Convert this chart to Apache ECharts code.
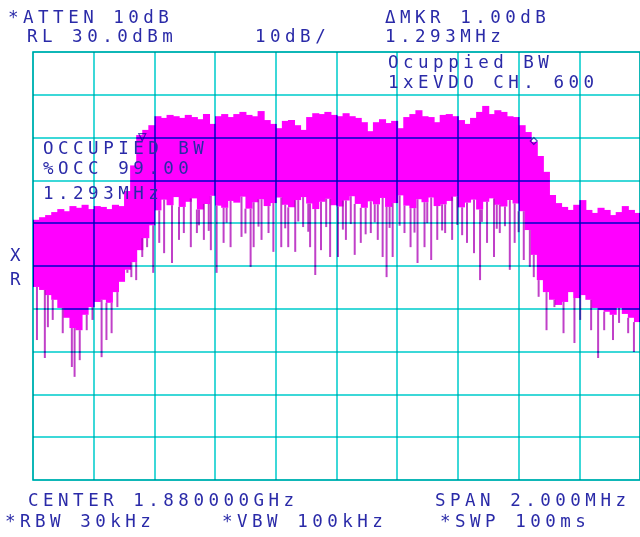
<!DOCTYPE html>
<html>
<head>
<meta charset="UTF-8">
<title>Occupied BW</title>
<script type="text/javascript" src="https://cdn.jsdelivr.net/npm/echarts@6/dist/echarts.min.js"></script>
<style>
html,body{margin:0;padding:0;background:#fff;}
/* trace is multiplied over the grid, so cyan lines turn dark blue under it */
#main svg path, #main svg rect, #main svg line { mix-blend-mode: multiply; }
/* analyser font has a wide character pitch */
#main svg text { letter-spacing: 4.5px; }
</style>
</head>
<body>
<div id="main" style="width:640px;height:537px;"></div>

<script type="text/javascript">
// x axis: offset from center 1.880000 GHz, in MHz (span 2 MHz)
// y axis: dBm, RL 30 dBm, 10 dB/div
var colStep = 0.02;   // width of one trace column, MHz

// upper edge of the trace, one value per column (dBm)
var peak = [
  -9.2, -8.6, -8.1, -7.4, -6.7, -7.2, -6.0, -6.4, -5.7, -6.7,
  -6.0, -6.2, -6.7, -5.7, -6.0, -2.5, 3.5, 10.6, 11.8, 12.9,
  15.0, 14.6, 15.3, 15.0, 14.6, 15.3, 14.8, 14.3, 15.5, 13.2,
  15.0, 15.5, 14.8, 15.5, 16.0, 15.3, 15.0, 16.2, 14.1, 13.2,
  12.2, 13.9, 14.1, 12.9, 11.8, 14.8, 15.7, 15.5, 16.0, 15.3,
  15.0, 15.7, 15.0, 14.6, 13.6, 11.5, 13.6, 14.3, 13.4, 13.9,
  12.2, 14.8, 15.5, 16.4, 15.0, 14.8, 13.6, 15.3, 15.5, 15.0,
  14.1, 13.2, 14.6, 16.0, 17.4, 15.5, 16.4, 16.0, 15.0, 14.8,
  12.9, 11.3, 9.0, 5.7, 2.0, -3.4, -5.3, -6.2, -6.9, -5.7,
  -4.6, -6.9, -7.6, -6.4, -6.9, -8.1, -7.4, -6.0, -6.9, -7.6
];

// lower edge of the solid part of the trace (dBm)
var floor = [
  -24.9, -25.6, -26.8, -27.9, -29.8, -32.1, -34.5, -35.0, -31.4, -29.6,
  -28.4, -27.9, -28.6, -26.1, -23.7, -20.9, -19.1, -16.3, -13.5, -10.5,
  -7.0, -4.5, -5.8, -3.9, -6.2, -5.0, -4.2, -6.8, -5.5, -3.6,
  -5.9, -6.4, -4.8, -5.2, -3.8, -6.6, -5.1, -4.4, -6.0, -5.3,
  -4.0, -5.7, -6.3, -4.6, -3.9, -5.4, -6.7, -5.0, -4.3, -5.8,
  -6.1, -4.7, -3.7, -5.5, -6.4, -4.9, -5.6, -4.1, -6.2, -5.3,
  -3.5, -5.9, -6.5, -4.4, -5.1, -4.0, -6.0, -5.6, -4.8, -3.8,
  -6.3, -5.2, -4.5, -6.8, -5.0, -4.2, -5.7, -6.1, -4.6, -5.4,
  -7.2, -11.6, -17.4, -23.3, -26.1, -27.9, -29.1, -28.4, -26.1, -27.5,
  -26.8, -27.9, -29.8, -30.3, -30.7, -31.4, -29.8, -31.2, -32.1, -33.1
];

// downward noise spikes: frequency (MHz) and lowest value (dBm)
var spikeFreq = [
  -0.987, -0.961, -0.951, -0.935, -0.902, -0.872, -0.863, -0.846, -0.823, -0.804,
  -0.774, -0.758, -0.741, -0.722, -0.689, -0.676, -0.660, -0.640, -0.624, -0.604,
  -0.584, -0.568, -0.542, -0.519, -0.503, -0.480, -0.460, -0.437, -0.414, -0.395,
  -0.372, -0.349, -0.313, -0.283, -0.273, -0.247, -0.224, -0.208, -0.182, -0.159,
  -0.136, -0.110, -0.087, -0.070, -0.051, -0.021, 0.005, 0.031, 0.060, 0.080,
  0.113, 0.136, 0.152, 0.165, 0.185, 0.224, 0.244, 0.267, 0.290, 0.312,
  0.332, 0.358, 0.381, 0.430, 0.453, 0.473, 0.496, 0.519, 0.538, 0.571,
  0.587, 0.617, 0.637, 0.650, 0.666, 0.692, 0.718, 0.748, 0.784, 0.803,
  0.839, 0.862, 0.882, 0.911, 0.931, 0.961, 0.980,
  -0.453, -0.421, -0.362, -0.300, -0.257, -0.169, -0.126, -0.093, -0.034, 0.021,
  0.047, 0.096, 0.126, 0.175, 0.208, 0.257, 0.299, 0.348, 0.398, 0.414,
  0.479, 0.528, 0.555, 0.600
];
var spikeLow = [
  -37.3, -41.5, -34.3, -32.6, -35.7, -43.6, -45.9, -42.0, -35.0, -32.6,
  -41.3, -37.3, -35.7, -29.6, -21.6, -22.6, -23.3, -17.9, -15.6, -21.6,
  -14.6, -17.0, -19.3, -13.9, -12.3, -15.6, -12.3, -13.9, -16.3, -21.6,
  -14.6, -15.6, -13.2, -20.2, -15.6, -13.9, -12.3, -16.7, -15.6, -15.6,
  -16.7, -10.9, -15.6, -22.1, -16.3, -17.9, -17.9, -13.9, -17.4, -14.6,
  -12.3, -13.9, -17.9, -22.6, -17.9, -12.3, -15.6, -19.3, -15.6, -18.6,
  -13.9, -12.3, -13.9, -14.6, -17.0, -23.3, -14.6, -17.9, -12.3, -20.9,
  -14.6, -18.6, -20.2, -22.6, -27.2, -35.0, -29.6, -35.7, -38.0, -32.6,
  -35.0, -41.5, -35.0, -37.3, -33.3, -35.7, -40.1,
  -10.5, -11.8, -9.9, -12.4, -10.8, -11.2, -9.6, -12.0, -10.9, -11.5,
  -10.2, -12.6, -9.8, -11.1, -10.6, -12.2, -10.0, -11.7, -10.4, -12.8,
  -9.7, -11.3, -10.7, -12.1
];

// occupied bandwidth markers [MHz, dBm]
var markerLeft = [-0.640, 10.1];
var markerRight = [0.650, 9.2];

var cyan = '#3cd8d8';
var ink = '#2a2aa8';

var bandData = [];
for (var i = 0; i < peak.length; i++) {
  bandData.push([-1 + colStep * (i + 0.5), peak[i], floor[i]]);
}
var spikeData = [];
for (var j = 0; j < spikeFreq.length; j++) {
  var k = Math.min(peak.length - 1, Math.max(0, Math.floor((spikeFreq[j] + 1) / colStep)));
  spikeData.push([spikeFreq[j], floor[k], spikeLow[j]]);
}

function txt(s, x, y) {
  return {
    type: 'text', x: x, y: y, z: 100,
    style: {text: s, font: '17.5px "DejaVu Sans Mono"', fill: ink, textVerticalAlign: 'middle'}
  };
}

var mychart = echarts.init(document.getElementById('main'), null, {renderer: 'svg'});

var option = {
  backgroundColor: '#fff',
  animation: false,
  grid: {left: 33, top: 52, width: 611, height: 428, show: true, borderColor: cyan, borderWidth: 2, backgroundColor: 'transparent'},
  xAxis: {
    type: 'value', min: -1, max: 1, interval: 0.2,
    axisLine: {show: false}, axisTick: {show: false}, axisLabel: {show: false},
    splitLine: {show: true, lineStyle: {color: cyan, width: 2}}
  },
  yAxis: {
    type: 'value', min: -70, max: 30, interval: 10,
    axisLine: {show: false}, axisTick: {show: false}, axisLabel: {show: false},
    splitLine: {show: true, lineStyle: {color: cyan, width: 2}}
  },
  series: [{
    type: 'custom',
    name: 'spikes',
    clip: false,
    z: 2,
    data: spikeData,
    renderItem: function (params, api) {
      var a = api.coord([api.value(0), api.value(1)]);
      var b = api.coord([api.value(0), api.value(2)]);
      return {type: 'line', shape: {x1: a[0], y1: a[1], x2: b[0], y2: b[1]},
        style: {stroke: '#c040c8', lineWidth: 2, fill: null}};
    }
  }, {
    type: 'custom',
    name: 'trace',
    clip: false,
    z: 3,
    data: bandData,
    renderItem: function (params, api) {
      var a = api.coord([api.value(0) - colStep / 2, api.value(1)]);
      var b = api.coord([api.value(0) + colStep / 2, api.value(2)]);
      return {type: 'rect', shape: {x: a[0], y: a[1], width: b[0] - a[0] + 1, height: b[1] - a[1]},
        style: {fill: '#ff00ff', stroke: null, lineWidth: 0}};
    }
  }, {
    type: 'scatter',
    z: 5,
    symbol: 'triangle',
    symbolRotate: 180,
    symbolSize: 7,
    data: [markerLeft],
    itemStyle: {color: '#fff', borderColor: ink, borderWidth: 1.2}
  }, {
    type: 'scatter',
    z: 5,
    symbol: 'diamond',
    symbolSize: 7,
    data: [markerRight],
    itemStyle: {color: '#fff', borderColor: ink, borderWidth: 1.2}
  }],
  graphic: [
    txt('*ATTEN 10dB', 8, 17),
    txt('RL 30.0dBm', 27, 36),
    txt('10dB/', 255, 36),
    txt('\u0394MKR 1.00dB', 385, 17),
    txt('1.293MHz', 385, 36),
    txt('Ocuppied BW', 388, 62),
    txt('1xEVDO CH. 600', 388, 82),
    txt('OCCUPIED BW', 43, 147.5),
    txt('%OCC 99.00', 43, 168),
    txt('1.293MHz', 43, 193),
    txt('X', 10, 255),
    txt('R', 10, 279),
    txt('CENTER 1.880000GHz', 28, 500),
    txt('SPAN 2.000MHz', 435, 500),
    txt('*RBW 30kHz', 5, 521),
    txt('*VBW 100kHz', 222, 521),
    txt('*SWP 100ms', 440, 521)
  ]
};

mychart.setOption(option);
</script>
</body>
</html>
